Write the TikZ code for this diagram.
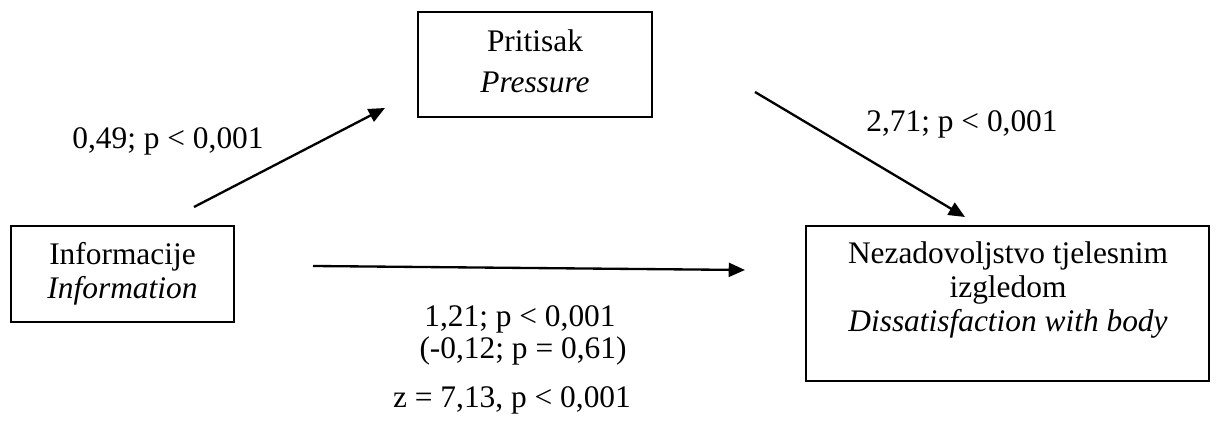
\documentclass[tikz,border=0pt]{standalone}
\usepackage{fontspec}
\setmainfont{Liberation Serif}
\usetikzlibrary{arrows.meta}
\begin{document}
\begin{tikzpicture}[x = 0.43pt, y = -0.43pt,
  every node/.style = {font=\fontsize{13.5pt}{14.5pt}\selectfont},
  boite/.style = {draw, line width = 0.85pt, inner sep = 0pt},
  fleche/.style = {-{Triangle[length=7pt,width=6pt]}, line width = 1pt}]
  \useasboundingbox (0,0) rectangle (1216,425);
% dessiner les boîtes
  \node[boite, minimum width = 95.9pt, minimum height = 41.3pt] (info) at (122.5,274) {};
  \node[boite, minimum width = 100.6pt, minimum height = 45.2pt] (prit) at (535,64.5) {};
  \node[boite, minimum width = 173.3pt, minimum height = 66.6pt] (nezad) at (1007.5,303.5) {};
  \node[align = center] (infotxt) at (122.5,274) {Informacije\\\textit{Information}};
  \node[align = center] (prittxt) at (535,61) {Pritisak\\[3pt]\textit{Pressure}};
  \node[align = center] (nezadtxt) at (1008,290) {Nezadovoljstvo tjelesnim\\izgledom\\\textit{Dissatisfaction with body}};

  % dessiner les flèches
  \coordinate (a1) at (194,207); \coordinate (b1) at (385,108);
  \coordinate (a2) at (755,92);  \coordinate (b2) at (965,217);
  \coordinate (a3) at (313,266); \coordinate (b3) at (745,270);
  \draw[fleche] (a1) -- (b1);
  \draw[fleche] (a2) -- (b2);
  \draw[fleche] (a3) -- (b3);

  % les coefficients
  \node (coefa) at (168,141) {0,49; p < 0,001};
  \node (coefb) at (962,124) {2,71; p < 0,001};
  \node (coefc) at (520,319) {1,21; p < 0,001};
  \node (coefd) at (523,351) {(-0,12; p = 0,61)};
  \node (sobel) at (512,400) {z = 7,13, p < 0,001};
\end{tikzpicture}
\end{document}
